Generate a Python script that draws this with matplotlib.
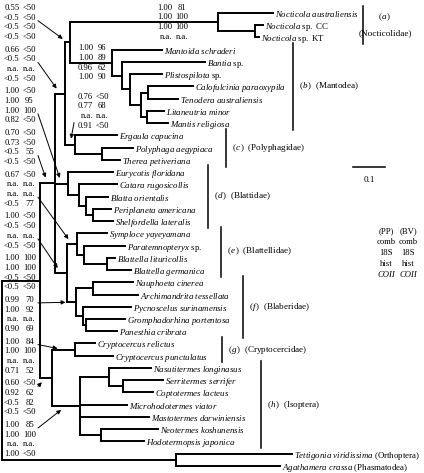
import matplotlib
matplotlib.use('Agg')
import matplotlib.pyplot as plt

plt.rcParams['font.family'] = ['Liberation Serif', 'DejaVu Serif']
plt.rcParams['mathtext.fontset'] = 'custom'
plt.rcParams['mathtext.rm'] = 'Liberation Serif'
plt.rcParams['mathtext.it'] = 'Liberation Serif:italic'
plt.rcParams['mathtext.bf'] = 'Liberation Serif:bold'

# ── Data: taxa (top to bottom) and terminal branch lengths ───────────────────
TAXA = [
    'Nocticola australiensis', 'Nocticola sp. CC', 'Nocticola sp. KT',
    'Mantoida schraderi', 'Bantia sp.', 'Plistospilota sp.',
    'Calofulcinia paraoxypila', 'Tenodera australiensis', 'Litaneutria minor',
    'Mantis religiosa',
    'Ergaula capucina', 'Polyphaga aegypiaca', 'Therea petiveriana',
    'Eurycotis floridana', 'Catara rugosicollis', 'Blatta orientalis',
    'Periplaneta americana', 'Shelfordella lateralis',
    'Symploce yayeyamana', 'Paratemnopteryx sp.', 'Blattella lituricollis',
    'Blattella germanica',
    'Nauphoeta cinerea', 'Archimandrita tessellata', 'Pycnoscelus surinamensis',
    'Gromphadorhina portentosa', 'Panesthia cribrata',
    'Cryptocercus relictus', 'Cryptocercus punctulatus',
    'Nasutitermes longinasus', 'Serritermes serrifer', 'Coptotermes lacteus',
    'Microhodotermes viator', 'Mastotermes darwiniensis',
    'Neotermes koshunensis', 'Hodotermopsis japonica',
    'Tettigonia viridissima (Orthoptera)', 'Agathamera crassa (Phasmatodea)',
]
TIP_LEN = [0.172, 0.025, 0.012, 0.156, 0.259, 0.100, 0.141, 0.094, 0.053, 0.066,
           0.131, 0.097, 0.056, 0.141, 0.119, 0.069, 0.056, 0.062,
           0.094, 0.128, 0.025, 0.075, 0.125, 0.141, 0.150, 0.122, 0.097,
           0.062, 0.119, 0.131, 0.125, 0.094, 0.147, 0.216, 0.178, 0.134,
           0.362, 0.325]

# ── Data: internal nodes (children in drawing order, stem length) ────────────
NODE_NAMES = ['root', 'ingroup', 'n_A', 'n_B', 'n_C', 'Nocticolidae', 'n_CK',
              'Mantodea', 'n_M2', 'n_M3', 'n_M4', 'n_CT', 'n_LM',
              'Polyphagidae', 'n_PT', 'Blattidae', 'n_B2', 'n_B3', 'n_B4',
              'n_D', 'Blattellidae', 'n_E2', 'n_E3', 'Blaberidae', 'n_NA',
              'n_F2', 'n_GP', 'n_CI', 'Cryptocercus', 'Isoptera', 'n_NSC',
              'n_SC', 'n_NH', 'outgroup']
NODE_CHILDREN = [
    ['ingroup', 'outgroup'],
    ['n_A', 'n_CI'],
    ['n_B', 'Blattidae', 'n_D'],
    ['n_C', 'Polyphagidae'],
    ['Nocticolidae', 'Mantodea'],
    ['Nocticola australiensis', 'n_CK'],
    ['Nocticola sp. CC', 'Nocticola sp. KT'],
    ['Mantoida schraderi', 'n_M2'],
    ['Bantia sp.', 'n_M3'],
    ['Plistospilota sp.', 'n_M4'],
    ['n_CT', 'n_LM'],
    ['Calofulcinia paraoxypila', 'Tenodera australiensis'],
    ['Litaneutria minor', 'Mantis religiosa'],
    ['Ergaula capucina', 'n_PT'],
    ['Polyphaga aegypiaca', 'Therea petiveriana'],
    ['Eurycotis floridana', 'n_B2'],
    ['Catara rugosicollis', 'n_B3'],
    ['Blatta orientalis', 'n_B4'],
    ['Periplaneta americana', 'Shelfordella lateralis'],
    ['Blattellidae', 'Blaberidae'],
    ['Symploce yayeyamana', 'n_E2'],
    ['Paratemnopteryx sp.', 'n_E3'],
    ['Blattella lituricollis', 'Blattella germanica'],
    ['n_NA', 'n_F2'],
    ['Nauphoeta cinerea', 'Archimandrita tessellata'],
    ['Pycnoscelus surinamensis', 'n_GP'],
    ['Gromphadorhina portentosa', 'Panesthia cribrata'],
    ['Cryptocercus', 'Isoptera'],
    ['Cryptocercus relictus', 'Cryptocercus punctulatus'],
    ['n_NSC', 'Microhodotermes viator', 'Mastotermes darwiniensis', 'n_NH'],
    ['Nasutitermes longinasus', 'n_SC'],
    ['Serritermes serrifer', 'Coptotermes lacteus'],
    ['Neotermes koshunensis', 'Hodotermopsis japonica'],
    ['Tettigonia viridissima (Orthoptera)', 'Agathamera crassa (Phasmatodea)'],
]
NODE_LEN = [0.0, 0.119, 0.047, 0.031, 0.016, 0.462, 0.116, 0.131, 0.031, 0.025,
            0.034, 0.022, 0.019, 0.031, 0.084, 0.041, 0.034, 0.022, 0.022,
            0.037, 0.031, 0.022, 0.072, 0.028, 0.053, 0.022, 0.009, 0.037,
            0.072, 0.087, 0.091, 0.044, 0.066, 0.544]

# ── Data: clades and support values (PP, BV) ─────────────────────────────────
CLADE_NODES = ['Nocticolidae', 'Mantodea', 'Polyphagidae', 'Blattidae',
               'Blattellidae', 'Blaberidae', 'Cryptocercus', 'Isoptera']
CLADE_LETTERS = ['a', 'b', 'c', 'd', 'e', 'f', 'g', 'h']
CLADE_NAMES = ['Nocticolidae', 'Mantodea', 'Polyphagidae', 'Blattidae',
               'Blattellidae', 'Blaberidae', 'Cryptocercidae', 'Isoptera']

LEFT_SUPPORT_NODES = ['n_C', 'n_B', 'Blattidae', 'n_A', 'Blattellidae', 'n_D',
                      'ingroup', 'Blaberidae', 'Cryptocercus', 'n_CI', 'Isoptera']
LEFT_SUPPORT = [
    [('0.55', '<50'), ('<0.5', '<50'), ('<0.5', '<50'), ('<0.5', '<50')],
    [('0.66', '<50'), ('<0.5', '<50'), ('n.a.', 'n.a.'), ('<0.5', '<50')],
    [('1.00', '<50'), ('1.00', '95'), ('1.00', '100'), ('0.82', '<50')],
    [('0.70', '<50'), ('0.73', '<50'), ('<0.5', '55'), ('<0.5', '<50')],
    [('0.67', '<50'), ('n.a.', 'n.a.'), ('n.a.', 'n.a.'), ('<0.5', '77')],
    [('1.00', '<50'), ('<0.5', '<50'), ('n.a.', 'n.a.'), ('<0.5', '<50')],
    [('1.00', '100'), ('1.00', '100'), ('<0.5', '<50'), ('<0.5', '<50')],
    [('0.99', '70'), ('1.00', '92'), ('n.a.', 'n.a.'), ('0.90', '69')],
    [('1.00', '84'), ('1.00', '100'), ('n.a.', 'n.a.'), ('0.71', '52')],
    [('0.60', '<50'), ('0.92', '62'), ('<0.5', '82'), ('<0.5', '<50')],
    [('1.00', '85'), ('1.00', '100'), ('n.a.', 'n.a.'), ('1.00', '<50')],
]
INLINE_SUPPORT_NODES = ['Nocticolidae', 'Mantodea', 'Polyphagidae']
INLINE_SUPPORT = [
    [('1.00', '81'), ('1.00', '100'), ('1.00', '100'), ('n.a.', 'n.a.')],
    [('1.00', '96'), ('1.00', '89'), ('0.96', '62'), ('1.00', '90')],
    [('0.76', '<50'), ('0.77', '68'), ('n.a.', 'n.a.'), ('0.91', '<50')],
]
KEY_HEADS = ['(PP)', '(BV)']
KEY_ROWS = ['comb', '18S', 'hist', 'COII']
SCALE_LEN = 0.1

# ── Layout (pixels of the 424 x 473 output) ──────────────────────────────────
W, H = 424, 473
X0_PX, UNIT_PX = 2.0, 320.0     # root position, pixels per substitution unit
Y0_PX, ROW_PX = 13.0, 12.24     # first taxon row, row spacing
LW = 1.4
FS_TAXON, FS_SUP, FS_CLADE, FS_KEY = 6.4, 6.2, 6.6, 6.2
ROMAN = {'sp.', 'CC', 'KT'}


def lx(px):
    return (px - X0_PX) / UNIT_PX


def ly(py):
    return (py - Y0_PX) / ROW_PX


def taxon_tex(name):
    parts = []
    for w in name.split(' '):
        if w in ROMAN or w.startswith('('):
            parts.append(r'\mathrm{%s}' % w)
        else:
            parts.append(r'\mathit{%s}' % w)
    return '$' + r'\ '.join(parts) + '$'


children = dict(zip(NODE_NAMES, NODE_CHILDREN))
length = dict(zip(NODE_NAMES, NODE_LEN))
length.update(zip(TAXA, TIP_LEN))
pos, parent, leaves_under = {}, {}, {}


def layout(node, x_parent):
    x = x_parent + length[node]
    if node in children:
        ys, lv = [], []
        for c in children[node]:
            parent[c] = node
            ys.append(layout(c, x))
            lv += leaves_under[c]
        y = (ys[0] + ys[-1]) / 2
        leaves_under[node] = lv
    else:
        y = TAXA.index(node)
        leaves_under[node] = [y]
    pos[node] = (x, y)
    return y


layout('root', 0.0)

fig = plt.figure(figsize=(W / 100, H / 100), dpi=100)
ax = fig.add_axes([0, 0, 1, 1])
ax.set_xlim(lx(0), lx(W))
ax.set_ylim(ly(H), ly(0))
ax.axis('off')

# ── Branches ─────────────────────────────────────────────────────────────────
for node, (x, y) in pos.items():
    if node in parent:
        xp = pos[parent[node]][0]
        ax.plot([xp, x], [y, y], color='k', lw=LW, solid_capstyle='projecting')
    if node in children:
        ys = [pos[c][1] for c in children[node]]
        ax.plot([x, x], [ys[0], ys[-1]], color='k', lw=LW,
                solid_capstyle='projecting')

for name in TAXA:
    x, y = pos[name]
    ax.annotate(taxon_tex(name), (x, y), xytext=(2, 0),
                textcoords='offset pixels', ha='left', va='center_baseline',
                fontsize=FS_TAXON)


def stem_mid(node):
    x, y = pos[node]
    return (x + pos[parent[node]][0]) / 2, y


def support_block(rows, x_right, x_mid, y_top, dy):
    for k, (pp, bv) in enumerate(rows):
        yy = ly(y_top + k * dy)
        ax.text(lx(x_right), yy, pp, ha='right', va='center', fontsize=FS_SUP)
        ax.text(lx(x_mid), yy, bv, ha='center', va='center', fontsize=FS_SUP)


def arrow_to(node, tail_px):
    hx, hy = stem_mid(node)
    hxp, hyp = X0_PX + hx * UNIT_PX, Y0_PX + hy * ROW_PX
    dx, dy = tail_px[0] - hxp, tail_px[1] - hyp
    d = (dx ** 2 + dy ** 2) ** 0.5
    head = (hxp + 6 * dx / d, hyp + 6 * dy / d)
    ax.annotate('', xy=(lx(head[0]), ly(head[1])),
                xytext=(lx(tail_px[0]), ly(tail_px[1])),
                arrowprops=dict(arrowstyle='-|>', lw=0.7, color='k',
                                mutation_scale=6, shrinkA=0, shrinkB=0))


# ── Support values: left column with arrows ──────────────────────────────────
ARROW_ROW = [1, 1, 2, 2, 2, 2, None, 0, 0, 0, 0]
for g, (node, rows) in enumerate(zip(LEFT_SUPPORT_NODES, LEFT_SUPPORT)):
    y_top = 8 + 41.7 * g
    support_block(rows, 19.5, 29.5, y_top, 9.7)
    if ARROW_ROW[g] is not None:
        arrow_to(node, (38, y_top + ARROW_ROW[g] * 9.7 + 3))

# ── Support values next to branches ──────────────────────────────────────────
INLINE_X = [(172, 182), (93, 102), (93, 102)]
for (node, rows), (xr, xm) in zip(zip(INLINE_SUPPORT_NODES, INLINE_SUPPORT),
                                  INLINE_X):
    y_stem = Y0_PX + pos[node][1] * ROW_PX
    if node == 'Polyphagidae':
        y_top = y_stem - 48
        support_block(rows, xr, xm, y_top, 9.7)
        arrow_to(node, (74, y_top + 3 * 9.7 - 3))
    else:
        support_block(rows, xr, xm, y_stem - 1.5 * 9.7, 9.7)

# ── Clade bars ───────────────────────────────────────────────────────────────
BAR_X = [363, 293, 226, 208, 221, 243, 222, 261]
for node, letter, cname, bx in zip(CLADE_NODES, CLADE_LETTERS, CLADE_NAMES,
                                   BAR_X):
    lv = leaves_under[node]
    y1, y2 = min(lv) - 0.55, max(lv) + 0.55
    ax.plot([lx(bx), lx(bx)], [y1, y2], color='k', lw=1.1)
    letter_tex = r'$(\mathit{%s}\,)$' % letter
    if letter == 'a':
        ym = (y1 + y2) / 2
        ax.text(lx(385), ym - 0.65, letter_tex, ha='center', va='center',
                fontsize=FS_CLADE)
        ax.text(lx(385), ym + 0.65, '(%s)' % cname, ha='center', va='center',
                fontsize=FS_CLADE)
    else:
        ax.text(lx(bx + 6), (y1 + y2) / 2,
                letter_tex[:-1] + r'\ \ \mathrm{(%s)}$' % cname,
                ha='left', va='center', fontsize=FS_CLADE)

# ── Scale bar ────────────────────────────────────────────────────────────────
ax.plot([lx(353), lx(353) + SCALE_LEN], [ly(167), ly(167)], color='k', lw=1.1)
ax.text(lx(353) + SCALE_LEN / 2, ly(180), '%g' % SCALE_LEN, ha='center',
        va='center', fontsize=FS_CLADE)

# ── Key ──────────────────────────────────────────────────────────────────────
for cx, head in zip([386, 408], KEY_HEADS):
    ax.text(lx(cx), ly(231), head, ha='center', va='center', fontsize=FS_KEY)
    for k, r in enumerate(KEY_ROWS):
        ax.text(lx(cx), ly(242 + 11 * k), r, ha='center', va='center',
                fontsize=FS_KEY, style='italic' if r == 'COII' else 'normal')

fig.savefig('out.png', dpi=100)
